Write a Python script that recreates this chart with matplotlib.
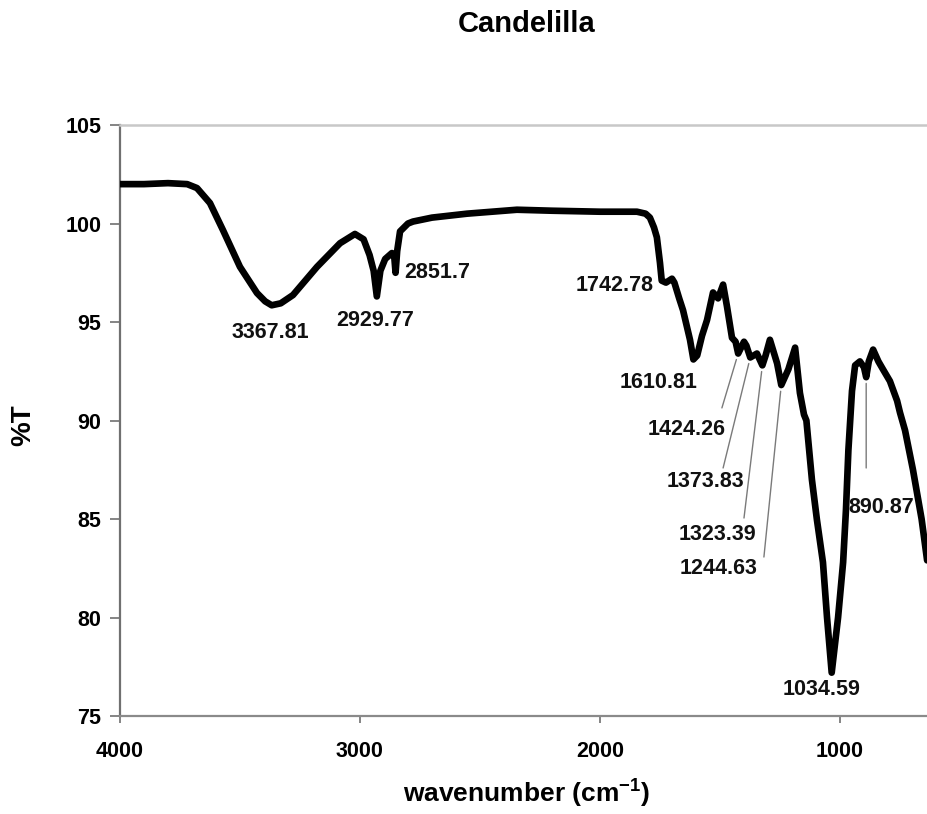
import numpy as np
import matplotlib
matplotlib.use('Agg')
import matplotlib.pyplot as plt

plt.rcParams['font.family'] = 'Liberation Sans'
plt.rcParams['mathtext.default'] = 'regular'

# FTIR spectrum (wavenumber in cm-1, %T)
wavenumber = [4000, 3900, 3800, 3720, 3679, 3625, 3571, 3500, 3429, 3395,
              3367.81, 3330, 3279, 3179, 3083, 3021, 2985, 2960, 2943, 2929.77,
              2915, 2895, 2867, 2857, 2851.7, 2845, 2833, 2800, 2779, 2700,
              2554, 2450, 2346, 2200, 2000, 1900, 1846, 1810, 1792, 1775,
              1763, 1750, 1742.78, 1725, 1700, 1690, 1670, 1654, 1625, 1610.81,
              1595, 1575, 1554, 1529, 1508, 1487, 1471, 1450, 1435, 1424.26,
              1400, 1390, 1373.83, 1346, 1323.39, 1310, 1292, 1262, 1244.63, 1215,
              1187, 1167, 1150, 1140, 1117, 1096, 1071, 1054, 1034.59, 1008,
              987, 975, 965, 950, 937, 917, 900, 890.87, 880, 862,
              840, 821, 792, 762, 750, 729, 696, 660, 637]
transmittance = [102.0, 102.0, 102.05, 102.0, 101.8, 101.04, 99.67, 97.8, 96.47, 96.05,
                 95.85, 95.95, 96.37, 97.8, 99.0, 99.47, 99.2, 98.4, 97.6, 96.3,
                 97.6, 98.2, 98.5, 98.3, 97.5, 98.6, 99.6, 100.0, 100.1, 100.3,
                 100.5, 100.6, 100.7, 100.65, 100.6, 100.6, 100.6, 100.5, 100.3, 99.8,
                 99.3, 98.0, 97.1, 97.0, 97.2, 97.0, 96.2, 95.6, 94.1, 93.1,
                 93.3, 94.3, 95.1, 96.5, 96.2, 96.9, 95.8, 94.2, 94.0, 93.4,
                 94.0, 93.8, 93.2, 93.4, 92.8, 93.3, 94.1, 92.9, 91.8, 92.6,
                 93.7, 91.4, 90.3, 90.0, 87.0, 84.95, 82.8, 80.0, 77.2, 80.0,
                 82.8, 85.5, 88.5, 91.5, 92.8, 93.0, 92.7, 92.2, 93.0, 93.6,
                 93.0, 92.6, 92.0, 91.0, 90.4, 89.5, 87.5, 85.0, 82.9]

# labelled bands and where their labels sit
peaks = [3367.81, 2929.77, 2851.7, 1742.78, 1610.81, 1424.26, 1373.83,
         1323.39, 1244.63, 1034.59, 890.87]
label_x = [3375, 2937, 2679, 1937, 1758, 1637, 1560, 1512, 1505, 1075, 829]
label_y = [94.49, 95.1, 97.49, 96.83, 91.95, 89.52, 86.88, 84.22, 82.51, 76.37, 85.6]

# bands with a leader line, and the free end of each line
leader_peaks = [1424.26, 1373.83, 1323.39, 1244.63, 890.87]
leader_x = [1492, 1487, 1400, 1317, 890.87]
leader_y = [90.64, 87.59, 85.05, 83.07, 87.59]

fig = plt.figure(figsize=(9.27, 8.14), dpi=100)
ax = fig.add_axes([0.1294, 0.1204, 0.8706, 0.726])

ax.plot(wavenumber, transmittance, color='black', linewidth=4.8,
        solid_joinstyle='round', solid_capstyle='round', zorder=3)

ax.set_xlim(4000, 637.5)
ax.set_ylim(75, 105)
ax.set_xticks([4000, 3000, 2000, 1000])
ax.set_yticks([75, 80, 85, 90, 95, 100, 105])

ax.spines['right'].set_visible(False)
ax.spines['top'].set_color('#c8c8c8')
ax.spines['top'].set_linewidth(1.8)
ax.spines['left'].set_color('#707070')
ax.spines['left'].set_linewidth(1.6)
ax.spines['bottom'].set_color('#8a8a8a')
ax.spines['bottom'].set_linewidth(1.6)

ax.tick_params(axis='y', direction='out', length=7, width=1.2, color='#707070',
               pad=6.5, labelsize=15.5)
ax.tick_params(axis='x', direction='out', length=5, width=1.2, color='#707070',
               pad=13, labelsize=15.5)
for lab in ax.get_xticklabels() + ax.get_yticklabels():
    lab.set_fontweight('bold')

# band labels
for p, lx, ly in zip(peaks, label_x, label_y):
    ax.text(lx, ly, str(p), fontsize=15.5, fontweight='bold',
            ha='center', va='center', color='#111111')

# leader lines from the bands down to their labels
rev_w = np.array(wavenumber)[::-1]
rev_t = np.array(transmittance)[::-1]
for p, lx, ly in zip(leader_peaks, leader_x, leader_y):
    py = np.interp(p, rev_w, rev_t)
    ax.annotate('', xy=(p, py), xytext=(lx, ly),
                arrowprops=dict(arrowstyle='-', color='#7a7a7a', lw=1.0,
                                shrinkA=0, shrinkB=4.5))

fig.text(0.5685, 0.9705, 'Candelilla', fontsize=21, fontweight='bold',
         ha='center', va='center')

ax.set_xlabel('wavenumber (cm$^{-1}$)', fontsize=19, fontweight='bold')
ax.xaxis.set_label_coords(0.504, -0.131)
ax.xaxis.label.set_va('center')
ax.set_ylabel('%T', fontsize=20, fontweight='bold')
ax.yaxis.set_label_coords(-0.120, 0.492)
ax.yaxis.label.set_va('center')

fig.savefig('out.png', dpi=100)
